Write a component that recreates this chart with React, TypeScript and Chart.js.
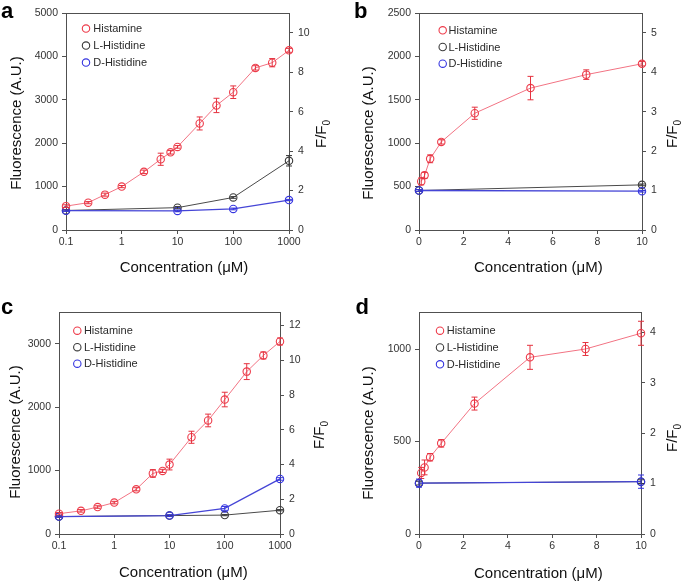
import React, { useEffect, useRef } from 'react';
import { Chart, registerables } from 'chart.js';

Chart.register(...registerables);

const FONT = "'Liberation Sans', Arial, Helvetica, sans-serif";

// ---------- data ----------
const seriesNames = ['Histamine', 'L-Histidine', 'D-Histidine'];
const panelLetters = ['a', 'b', 'c', 'd'];
const xTitle = 'Concentration (μM)';
const yTitle = 'Fluorescence (A.U.)';

const logTicks = [0.1, 1, 10, 100, 1000];
const logConc = [0.1, 0.25, 0.5, 1, 2.5, 5, 7.5, 10, 25, 50, 100, 250, 500, 1000];
const logConcSparse = [0.1, 10, 100, 1000];
const linConc = [0.1, 0.25, 0.5, 1, 2.5, 5, 7.5, 10];
const linConcSparse = [0, 10];

// panel a
const aHist = [550, 630, 815, 1000, 1340, 1630, 1790, 1915, 2455, 2870, 3175, 3735, 3855, 4140];
const aHistErr = [30, 25, 35, 25, 40, 140, 40, 30, 150, 165, 145, 50, 95, 45];
const aL = [450, 515, 750, 1595];
const aLErr = [15, 25, 20, 120];
const aD = [445, 440, 485, 690];
const aDErr = [15, 20, 20, 15];

// panel b
const bHist = [560, 630, 820, 1015, 1345, 1635, 1790, 1915];
const bHistErr = [40, 35, 45, 25, 70, 135, 55, 25];
const bL = [455, 520];
const bLErr = [10, 10];
const bD = [455, 447];
const bDErr = [10, 10];

// panel c
const cHist = [320, 365, 425, 495, 705, 955, 995, 1095, 1525, 1790, 2120, 2560, 2815, 3035];
const cHistErr = [20, 20, 20, 20, 25, 60, 25, 85, 95, 100, 115, 125, 55, 55];
const cL = [275, 290, 298, 375];
const cLErr = [10, 10, 10, 10];
const cD = [275, 290, 403, 868];
const cDErr = [10, 15, 30, 20];

// panel d
const dHist = [330, 360, 415, 490, 705, 955, 1000, 1085];
const dHistErr = [30, 40, 20, 20, 35, 65, 35, 65];
const dL = [275, 283];
const dLErr = [10, 10];
const dD = [275, 283];
const dDErr = [22, 36];

// tick labels per panel
const aYTicks = [0, 1000, 2000, 3000, 4000, 5000];
const aRTicks = [0, 2, 4, 6, 8, 10];
const bYTicks = [0, 500, 1000, 1500, 2000, 2500];
const bRTicks = [0, 1, 2, 3, 4, 5];
const cYTicks = [0, 1000, 2000, 3000];
const cRTicks = [0, 2, 4, 6, 8, 10, 12];
const dYTicks = [0, 500, 1000];
const dRTicks = [0, 1, 2, 3, 4];
const linXTicks = [0, 2, 4, 6, 8, 10];

// ---------- styles ----------
const histStyle = { point: '#ee3b4a', line: '#f27383', err: '#e5323f', width: 1, order: 0 };
const lStyle = { point: '#3a3a3a', line: '#4a4a4a', err: '#3a3a3a', width: 1, order: 2 };
const dStyle = { point: '#3535e0', line: '#4545d6', err: '#3535e0', width: 1.3, order: 1 };

type Panel = {
  area: number[]; // L, T, R, B (page px)
  log: boolean;
  yMax: number; yTicks: number[];
  rMax: number; rTicks: number[];
  series: { x: number[]; y: number[]; err: number[]; style: any }[];
  legend: number[]; // dx, dy, step, textGap
  letterPos: number[];
  yTitlePos: number[];
  xTitlePos: number[];
  rTitlePos: number[];
};

const panels: Panel[] = [
  {
    area: [66, 13, 289, 230], log: true, yMax: 5000, yTicks: aYTicks, rMax: 11, rTicks: aRTicks,
    series: [
      { x: logConc, y: aHist, err: aHistErr, style: histStyle },
      { x: logConcSparse, y: aL, err: aLErr, style: lStyle },
      { x: logConcSparse, y: aD, err: aDErr, style: dStyle },
    ],
    legend: [20, 15.6, 17, 7.3],
    letterPos: [1, 0], yTitlePos: [16, 122.5], xTitlePos: [184, 266.7], rTitlePos: [321.7, 134],
  },
  {
    area: [419, 13, 642, 230], log: false, yMax: 2500, yTicks: bYTicks, rMax: 5.5, rTicks: bRTicks,
    series: [
      { x: linConc, y: bHist, err: bHistErr, style: histStyle },
      { x: linConcSparse, y: bL, err: bLErr, style: lStyle },
      { x: linConcSparse, y: bD, err: bDErr, style: dStyle },
    ],
    legend: [23.7, 17.3, 16.7, 5.8],
    letterPos: [354, 0], yTitlePos: [368.3, 132.5], xTitlePos: [538.3, 266.7], rTitlePos: [673.3, 134],
  },
  {
    area: [59, 312, 280, 534], log: true, yMax: 3500, yTicks: cYTicks, rMax: 12.78, rTicks: cRTicks,
    series: [
      { x: logConc, y: cHist, err: cHistErr, style: histStyle },
      { x: logConcSparse, y: cL, err: cLErr, style: lStyle },
      { x: logConcSparse, y: cD, err: cDErr, style: dStyle },
    ],
    legend: [18.3, 18.7, 16.5, 6.6],
    letterPos: [1, 296.4], yTitlePos: [15, 431.7], xTitlePos: [183.3, 571.7], rTitlePos: [320, 435],
  },
  {
    area: [419, 312, 641, 534], log: false, yMax: 1200, yTicks: dYTicks, rMax: 4.4, rTicks: dRTicks,
    series: [
      { x: linConc, y: dHist, err: dHistErr, style: histStyle },
      { x: linConcSparse, y: dL, err: dLErr, style: lStyle },
      { x: linConcSparse, y: dD, err: dDErr, style: dStyle },
    ],
    legend: [21, 18.7, 16.8, 6.7],
    letterPos: [355.5, 296.4], yTitlePos: [368.3, 432.5], xTitlePos: [538.3, 573.3], rTitlePos: [673.3, 437.5],
  },
];

const PAGE_W = 685;
const PAGE_H = 582;
const LEFT_W = 40;
const RIGHT_W = 25;
const BOTTOM_H = 25;
const AXIS_COLOR = '#505050';
const TICK_COLOR = '#333333';
const TICK_FONT = 10.5;

function makeChart(canvas: HTMLCanvasElement, p: Panel) {
  const [L, T, R, B] = p.area;
  const datasets = p.series.map((s, i) => ({
    label: seriesNames[i],
    data: s.x.map((x, k) => ({ x, y: s.y[k] })),
    borderColor: s.style.line,
    backgroundColor: 'rgba(0,0,0,0)',
    pointBorderColor: s.style.point,
    pointBackgroundColor: 'rgba(0,0,0,0)',
    pointRadius: 3.7,
    pointBorderWidth: 1.1,
    borderWidth: s.style.width,
    tension: 0,
    clip: false,
    order: s.style.order,
    errors: s.err,
    errColor: s.style.err,
    yAxisID: 'y',
  }));

  const errorBars = {
    id: 'errorBars',
    afterDatasetsDraw(chart: any) {
      const ctx = chart.ctx;
      const xs = chart.scales.x;
      const ys = chart.scales.y;
      chart.data.datasets.forEach((ds: any) => {
        ctx.save();
        ctx.strokeStyle = ds.errColor;
        ctx.lineWidth = 1;
        ds.data.forEach((pt: any, k: number) => {
          const e = ds.errors[k];
          if (!e) return;
          const px = xs.getPixelForValue(pt.x);
          const y1 = ys.getPixelForValue(pt.y - e);
          const y2 = ys.getPixelForValue(pt.y + e);
          ctx.beginPath();
          ctx.moveTo(px, y1);
          ctx.lineTo(px, y2);
          ctx.moveTo(px - 3, y1);
          ctx.lineTo(px + 3, y1);
          ctx.moveTo(px - 3, y2);
          ctx.lineTo(px + 3, y2);
          ctx.stroke();
        });
        ctx.restore();
      });
    },
  };

  const frameTop = {
    id: 'frameTop',
    beforeDatasetsDraw(chart: any) {
      const { ctx, chartArea } = chart;
      ctx.save();
      ctx.strokeStyle = AXIS_COLOR;
      ctx.lineWidth = 1;
      ctx.beginPath();
      ctx.moveTo(chartArea.left, Math.round(chartArea.top) + 0.5);
      ctx.lineTo(chartArea.right, Math.round(chartArea.top) + 0.5);
      ctx.stroke();
      ctx.restore();
    },
  };

  const insideLegend = {
    id: 'insideLegend',
    afterDraw(chart: any) {
      const { ctx, chartArea } = chart;
      const [dx, dy, step, gap] = p.legend;
      chart.data.datasets.forEach((ds: any, i: number) => {
        const cx = chartArea.left + dx;
        const cy = chartArea.top + dy + i * step;
        ctx.save();
        ctx.beginPath();
        ctx.arc(cx, cy, 3.7, 0, Math.PI * 2);
        ctx.strokeStyle = ds.pointBorderColor;
        ctx.lineWidth = 1.1;
        ctx.stroke();
        ctx.fillStyle = '#2a2a2a';
        ctx.font = `11px ${FONT}`;
        ctx.textBaseline = 'middle';
        ctx.textAlign = 'left';
        ctx.fillText(ds.label, cx + gap, cy + 0.5);
        ctx.restore();
      });
    },
  };

  const tickFont = { family: FONT, size: TICK_FONT };
  const grid = { drawOnChartArea: false, drawTicks: true, tickLength: 4, color: AXIS_COLOR };
  const border = { display: true, color: AXIS_COLOR, width: 1 };
  const fmt = (v: any) => String(v);

  const xTickList = p.log ? logTicks : linXTicks;
  const xScale: any = {
    type: p.log ? 'logarithmic' : 'linear',
    min: p.log ? 0.1 : 0,
    max: p.log ? 1000 : 10,
    position: 'bottom',
    afterBuildTicks: (s: any) => {
      s.ticks = xTickList.map((v) => ({ value: v }));
    },
    ticks: { autoSkip: false, maxRotation: 0, padding: 2, color: TICK_COLOR, font: tickFont, callback: fmt },
    grid,
    border,
    afterFit: (s: any) => {
      s.height = BOTTOM_H;
    },
  };

  return new Chart(canvas, {
    type: 'line',
    data: { datasets: datasets as any },
    options: {
      animation: false,
      responsive: false,
      events: [],
      layout: {
        padding: {
          left: L - LEFT_W,
          right: PAGE_W - R - RIGHT_W,
          top: T,
          bottom: PAGE_H - B - BOTTOM_H,
        },
      },
      plugins: { legend: { display: false }, tooltip: { enabled: false }, title: { display: false } },
      scales: {
        x: xScale,
        y: {
          type: 'linear',
          position: 'left',
          min: 0,
          max: p.yMax,
          afterBuildTicks: (s: any) => {
            s.ticks = p.yTicks.map((v) => ({ value: v }));
          },
          ticks: { padding: 4, color: TICK_COLOR, font: tickFont, callback: fmt },
          grid,
          border,
          afterFit: (s: any) => {
            s.width = LEFT_W;
          },
        },
        y1: {
          type: 'linear',
          position: 'right',
          min: 0,
          max: p.rMax,
          afterBuildTicks: (s: any) => {
            s.ticks = p.rTicks.map((v) => ({ value: v }));
          },
          ticks: { padding: 5, color: TICK_COLOR, font: tickFont, callback: fmt },
          grid,
          border,
          afterFit: (s: any) => {
            s.width = RIGHT_W;
          },
        },
      },
    } as any,
    plugins: [frameTop, errorBars, insideLegend],
  });
}

function PanelChart({ p }: { p: Panel }) {
  const ref = useRef<HTMLCanvasElement>(null);
  useEffect(() => {
    if (!ref.current) return;
    const chart = makeChart(ref.current, p);
    return () => chart.destroy();
  }, [p]);
  return (
    <canvas
      ref={ref}
      width={PAGE_W}
      height={PAGE_H}
      style={{ position: 'absolute', left: 0, top: 0, width: PAGE_W, height: PAGE_H }}
    />
  );
}

const centered = (x: number, y: number, rotate: boolean): React.CSSProperties => ({
  position: 'absolute',
  left: x,
  top: y,
  transform: `translate(-50%, -50%)${rotate ? ' rotate(-90deg)' : ''}`,
  whiteSpace: 'nowrap',
  fontFamily: FONT,
  fontSize: 15,
  lineHeight: '18px',
  color: '#111111',
});

export default function App() {
  return (
    <div style={{ position: 'absolute', left: 0, top: 0, width: PAGE_W, height: PAGE_H, background: '#ffffff', overflow: 'hidden' }}>
      {panels.map((p, i) => (
        <PanelChart key={'c' + i} p={p} />
      ))}
      {panels.map((p, i) => (
        <React.Fragment key={'t' + i}>
          <div
            style={{
              position: 'absolute',
              left: p.letterPos[0],
              top: p.letterPos[1],
              fontFamily: FONT,
              fontWeight: 'bold',
              fontSize: 22,
              lineHeight: '22px',
              color: '#000',
            }}
          >
            {panelLetters[i]}
          </div>
          <div style={centered(p.yTitlePos[0], p.yTitlePos[1], true)}>{yTitle}</div>
          <div style={centered(p.xTitlePos[0], p.xTitlePos[1], false)}>{xTitle}</div>
          <div style={centered(p.rTitlePos[0], p.rTitlePos[1], true)}>
            F/F
            <span style={{ fontSize: 10, position: 'relative', top: 4 }}>0</span>
          </div>
        </React.Fragment>
      ))}
    </div>
  );
}
